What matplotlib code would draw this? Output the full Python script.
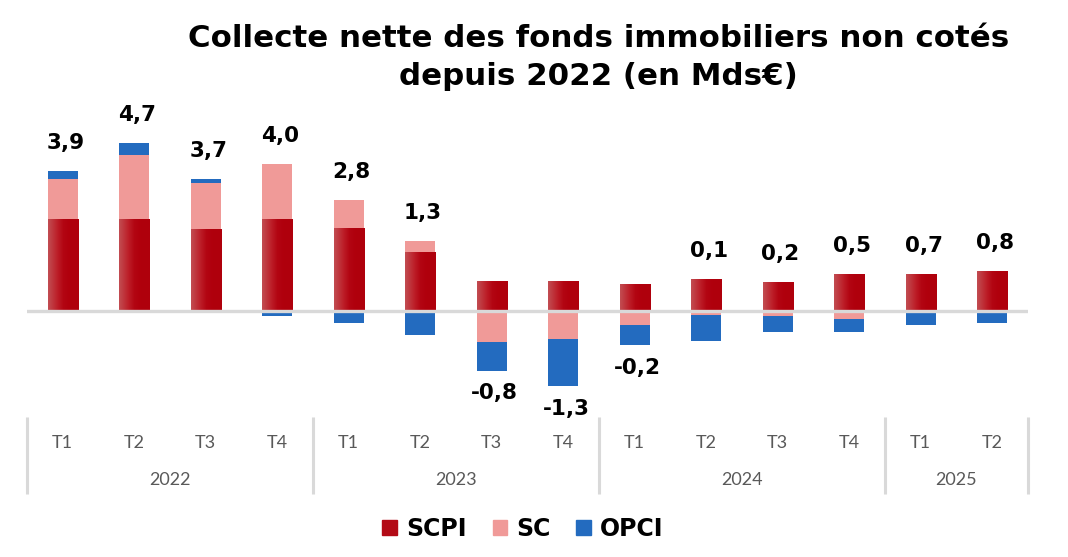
import matplotlib
matplotlib.use("Agg")
import matplotlib.pyplot as plt
import numpy as np
from matplotlib.patches import Patch

# ---------------- data ----------------
quarters = ["T1", "T2", "T3", "T4", "T1", "T2", "T3", "T4",
            "T1", "T2", "T3", "T4", "T1", "T2"]
years = ["2022", "2023", "2024", "2025"]
year_counts = [4, 4, 4, 2]
scpi = [2.56, 2.56, 2.28, 2.56, 2.31, 1.64, 0.84, 0.83, 0.75, 0.89, 0.81, 1.03, 1.03, 1.11]
sc = [1.11, 1.78, 1.28, 1.53, 0.78, 0.31, -0.86, -0.78, -0.39, -0.11, -0.14, -0.22, -0.02, 0.0]
opci = [0.22, 0.33, 0.11, -0.13, -0.33, -0.67, -0.81, -1.32, -0.56, -0.72, -0.45, -0.36, -0.36, -0.33]
totals = ["3,9", "4,7", "3,7", "4,0", "2,8", "1,3", "-0,8", "-1,3",
          "-0,2", "0,1", "0,2", "0,5", "0,7", "0,8"]
total_values = [3.9, 4.7, 3.7, 4.0, 2.8, 1.3, -0.8, -1.3, -0.2, 0.1, 0.2, 0.5, 0.7, 0.8]
series_names = ["SCPI", "SC", "OPCI"]
title_lines = ["Collecte nette des fonds immobiliers non cotés",
               "depuis 2022 (en Mds€)"]

# ---------------- style ----------------
C_SCPI = "#b30a16"
C_SC = "#f09a98"
C_OPCI = "#236bbf"
C_ZERO = "#d9d9d9"
C_TXT = "#595959"
BOLD = ["DejaVu Sans"]
LIGHT = ["Lato", "DejaVu Sans"]

W, H = 1068, 557
fig = plt.figure(figsize=(W / 100, H / 100), dpi=100)
ax_l, ax_r = 27 / W, 1028 / W
ax_top_px, ax_bot_px = 95, 415
ax = fig.add_axes([ax_l, 1 - ax_bot_px / H, ax_r - ax_l, (ax_bot_px - ax_top_px) / H])

n = len(quarters)
x = np.arange(n)
bw = 0.42

scpi_a = np.array(scpi)
sc_a = np.array(sc)
opci_a = np.array(opci)

pos_base = np.zeros(n)
neg_base = np.zeros(n)

def stack(vals):
    global pos_base, neg_base
    bottoms = np.where(vals >= 0, pos_base, neg_base)
    pos_base = pos_base + np.where(vals >= 0, vals, 0)
    neg_base = neg_base + np.where(vals < 0, vals, 0)
    return bottoms

b_scpi = stack(scpi_a)
bars_scpi = ax.bar(x, scpi_a, bw, bottom=b_scpi, color=C_SCPI, zorder=2, linewidth=0)
b_sc = stack(sc_a)
ax.bar(x, sc_a, bw, bottom=b_sc, color=C_SC, zorder=2, linewidth=0)
b_opci = stack(opci_a)
ax.bar(x, opci_a, bw, bottom=b_opci, color=C_OPCI, zorder=2, linewidth=0)

ymin, ymax = -(ax_bot_px - 311) / 35.9, (311 - ax_top_px) / 35.9
ax.set_xlim(-0.5, n - 0.5)
ax.set_ylim(ymin, ymax)

# horizontal gradient on SCPI bars
grad_cols = np.array([
    [0.76, 0.30, 0.32],
    [0.74, 0.12, 0.16],
    [0.70, 0.02, 0.07],
    [0.69, 0.00, 0.05],
    [0.69, 0.00, 0.05],
])
t = np.linspace(0, 1, 64)
kp = np.array([0.0, 0.3, 0.5, 0.7, 1.0])
grad = np.stack([np.interp(t, kp, grad_cols[:, k]) for k in range(3)], axis=-1)[None, :, :]
for p in bars_scpi:
    x0, y0 = p.get_x(), p.get_y()
    w, h = p.get_width(), p.get_height()
    im = ax.imshow(grad, extent=[x0, x0 + w, y0, y0 + h], aspect="auto",
                   interpolation="bilinear", zorder=2.1)
    im.set_clip_path(p)
ax.set_xlim(-0.5, n - 0.5)
ax.set_ylim(ymin, ymax)

# zero line
ax.axhline(0, color=C_ZERO, lw=2.4, zorder=3)

# total labels
for i in range(n):
    if total_values[i] >= 0:
        ax.annotate(totals[i], (x[i], pos_base[i]), xytext=(2, 16), textcoords="offset points",
                    ha="center", va="baseline", fontsize=15.5, fontweight="bold",
                    family=BOLD, color="black")
    else:
        ax.annotate(totals[i], (x[i], neg_base[i]), xytext=(2, -9), textcoords="offset points",
                    ha="center", va="top", fontsize=15.5, fontweight="bold",
                    family=BOLD, color="black")

for s in ax.spines.values():
    s.set_visible(False)
ax.set_xticks([])
ax.set_yticks([])

# category table below
trans = ax.get_xaxis_transform()
hpx = ax_bot_px - ax_top_px
def ay(px):
    return -(px - ax_bot_px) / hpx

for i, q in enumerate(quarters):
    ax.text(x[i], ay(443), q, transform=trans, ha="center", va="center",
            fontsize=13, color=C_TXT, family=LIGHT, fontweight="normal")

edges = np.concatenate([[0], np.cumsum(year_counts)]) - 0.5
for k, yr in enumerate(years):
    ax.text((edges[k] + edges[k + 1]) / 2, ay(480), yr, transform=trans, ha="center",
            va="center", fontsize=13, color=C_TXT, family=LIGHT, fontweight="normal")
for e in edges:
    ax.plot([e, e], [ay(417), ay(494)], transform=trans, color=C_ZERO, lw=2.2,
            clip_on=False, solid_capstyle="butt")

# title
t1 = fig.text(599 / W, 1 - 47 / H, title_lines[0], ha="center", va="baseline",
              fontsize=22, fontweight="bold", family=BOLD)
t2 = fig.text(598 / W, 1 - 85 / H, title_lines[1], ha="center", va="baseline",
              fontsize=22, fontweight="bold", family=BOLD)
fig.canvas.draw()
wpx = t1.get_window_extent().width
fs = 22 * 818 / wpx
t1.set_fontsize(fs)
t2.set_fontsize(fs)

# legend
handles = [Patch(color=C_SCPI), Patch(color=C_SC), Patch(color=C_OPCI)]
leg = fig.legend(handles, series_names, loc="center", bbox_to_anchor=(523 / W, 1 - 529 / H),
                 ncol=3, frameon=False, handlelength=0.6, handleheight=0.6,
                 handletextpad=0.4, columnspacing=1.1,
                 prop={"family": BOLD, "weight": "bold", "size": 17})

fig.savefig("out.png", dpi=100)
